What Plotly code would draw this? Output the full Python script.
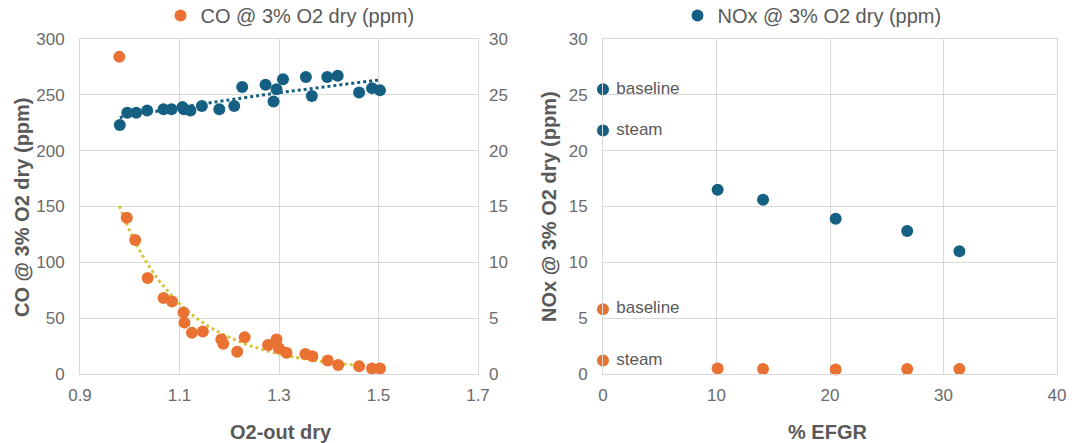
import numpy as np
import plotly.graph_objects as go

# ---------------- data ----------------
# left panel: CO (left axis) and NOx (right axis) vs O2-out dry
co_o2 = [0.979, 0.994, 1.011, 1.036, 1.068, 1.085, 1.108, 1.110, 1.125, 1.147, 1.184, 1.188,
         1.216, 1.231, 1.278, 1.295, 1.300, 1.315, 1.353, 1.367, 1.398, 1.419, 1.461, 1.487, 1.503]
co_ppm = [284, 140, 120, 86, 68, 65, 55, 46, 37, 38, 31, 27,
          20, 33, 26, 31, 23, 19, 18, 16, 12, 8, 7, 5, 5]

nox_o2 = [0.980, 0.995, 1.013, 1.035, 1.068, 1.084, 1.106, 1.109, 1.122, 1.145, 1.180, 1.210,
          1.226, 1.273, 1.295, 1.289, 1.308, 1.354, 1.366, 1.397, 1.418, 1.461, 1.487, 1.503]
nox_ppm = [22.3, 23.4, 23.4, 23.6, 23.7, 23.7, 23.9, 23.7, 23.6, 24.0, 23.7, 24.0,
           25.7, 25.9, 25.5, 24.4, 26.4, 26.6, 24.9, 26.6, 26.7, 25.2, 25.6, 25.4]

# right panel: vs % EFGR
efgr = [0, 0, 10.1, 14.1, 20.5, 26.8, 31.4]
efgr_nox = [25.5, 21.8, 16.5, 15.6, 13.9, 12.8, 11.0]
efgr_co = [5.8, 1.2, 0.5, 0.45, 0.4, 0.45, 0.45]
point_labels = ["baseline", "steam", "", "", "", "", ""]

co_title = "CO @ 3% O2 dry (ppm)"
nox_title = "NOx @ 3% O2 dry (ppm)"

# ---------------- style ----------------
BLUE = "#156082"
ORANGE = "#E97132"
TREND_Y = "#D8C43C"
GRID = "#D9D9D9"
TICK = "#6B6B6B"
TITLE = "#595959"
FONT = "Liberation Sans"
W, H = 1072, 443

def px_x(p):
    return p / W

def px_y(p):
    return 1 - p / H

# trendlines computed from the data
cx = np.array(co_o2); cy = np.array(co_ppm)
b, a = np.polyfit(np.log(cx), np.log(cy), 1)
tx = np.linspace(cx.min(), cx.max(), 60)
co_fit = np.exp(a) * tx ** b

nx = np.array(nox_o2); ny = np.array(nox_ppm)
nb, na = np.polyfit(np.log(nx), ny, 1)
ntx = np.linspace(nx.min(), nx.max(), 60)
nox_fit = na + nb * np.log(ntx)

labels_padded = ["\u00a0" + t if t else "" for t in point_labels]

fig = go.Figure()

fig.add_trace(go.Scatter(x=tx, y=co_fit, mode="lines", xaxis="x", yaxis="y",
                         line=dict(color=TREND_Y, width=3, dash="dot"),
                         showlegend=False, hoverinfo="skip"))
fig.add_trace(go.Scatter(x=ntx, y=nox_fit, mode="lines", xaxis="x", yaxis="y2",
                         line=dict(color=BLUE, width=3, dash="dot"),
                         showlegend=False, hoverinfo="skip"))
fig.add_trace(go.Scatter(x=co_o2, y=co_ppm, mode="markers", name=co_title,
                         xaxis="x", yaxis="y", legend="legend",
                         marker=dict(color=ORANGE, size=12)))
fig.add_trace(go.Scatter(x=nox_o2, y=nox_ppm, mode="markers", name=nox_title,
                         xaxis="x", yaxis="y2", showlegend=False,
                         marker=dict(color=BLUE, size=12)))

fig.add_trace(go.Scatter(x=efgr, y=efgr_nox, mode="markers+text", name=nox_title,
                         text=labels_padded, textposition="middle right",
                         textfont=dict(family=FONT, size=17, color=TITLE),
                         xaxis="x3", yaxis="y3", legend="legend2", cliponaxis=False,
                         marker=dict(color=BLUE, size=12)))
fig.add_trace(go.Scatter(x=efgr, y=efgr_co, mode="markers+text", name=co_title,
                         text=labels_padded, textposition="middle right",
                         textfont=dict(family=FONT, size=17, color=TITLE),
                         xaxis="x3", yaxis="y3", showlegend=False, cliponaxis=False,
                         marker=dict(color=ORANGE, size=12)))

ydom = [px_y(374), px_y(39)]
common_x = dict(showgrid=True, gridcolor=GRID, gridwidth=1, zeroline=False,
                showline=True, mirror=True, linecolor=GRID, linewidth=1,
                tickfont=dict(family=FONT, size=17, color=TICK), ticks="",
                ticklabelstandoff=6, fixedrange=True)
common_y = dict(showgrid=True, gridcolor=GRID, gridwidth=1, zeroline=False,
                showline=True, mirror=True, linecolor=GRID, linewidth=1,
                tickfont=dict(family=FONT, size=17, color=TICK), ticks="",
                ticklabelstandoff=11, fixedrange=True)

def title_ann(text, x, y, angle=0):
    return dict(text="<b>" + text + "</b>", x=px_x(x), y=px_y(y), xref="paper", yref="paper",
                xanchor="center", yanchor="middle", textangle=angle, showarrow=False,
                font=dict(family=FONT, size=20, color=TITLE))

fig.update_layout(
    width=W, height=H,
    margin=dict(l=0, r=0, t=0, b=0, autoexpand=False),
    paper_bgcolor="white", plot_bgcolor="white",
    font=dict(family=FONT, color=TITLE),
    xaxis=dict(domain=[px_x(80), px_x(478)], range=[0.9, 1.7], tick0=0.9, dtick=0.2,
               tickformat=".1f", anchor="y", **common_x),
    yaxis=dict(domain=ydom, range=[0, 300], dtick=50, anchor="x", **common_y),
    yaxis2=dict(overlaying="y", side="right", anchor="x", range=[0, 30], dtick=5,
                showgrid=False, zeroline=False, showline=False,
                tickfont=dict(family=FONT, size=17, color=TICK), ticks="",
                ticklabelstandoff=10, fixedrange=True),
    xaxis3=dict(domain=[px_x(603), px_x(1057)], range=[0, 40], dtick=10,
                anchor="y3", **common_x),
    yaxis3=dict(domain=ydom, range=[0, 30], dtick=5, anchor="x3", **common_y),
    legend=dict(x=px_x(290), y=px_y(-4), xanchor="center", yanchor="top",
                orientation="h", font=dict(family=FONT, size=20, color=TITLE),
                bgcolor="rgba(0,0,0,0)"),
    legend2=dict(x=px_x(812), y=px_y(-4), xanchor="center", yanchor="top",
                 orientation="h", font=dict(family=FONT, size=20, color=TITLE),
                 bgcolor="rgba(0,0,0,0)"),
    annotations=[
        title_ann(co_title, 22, 207, -90),
        title_ann(nox_title, 549, 207, -90),
        title_ann("O2-out dry", 281, 432),
        title_ann("% EFGR", 827, 432),
    ],
)

fig.write_html("out.html")
